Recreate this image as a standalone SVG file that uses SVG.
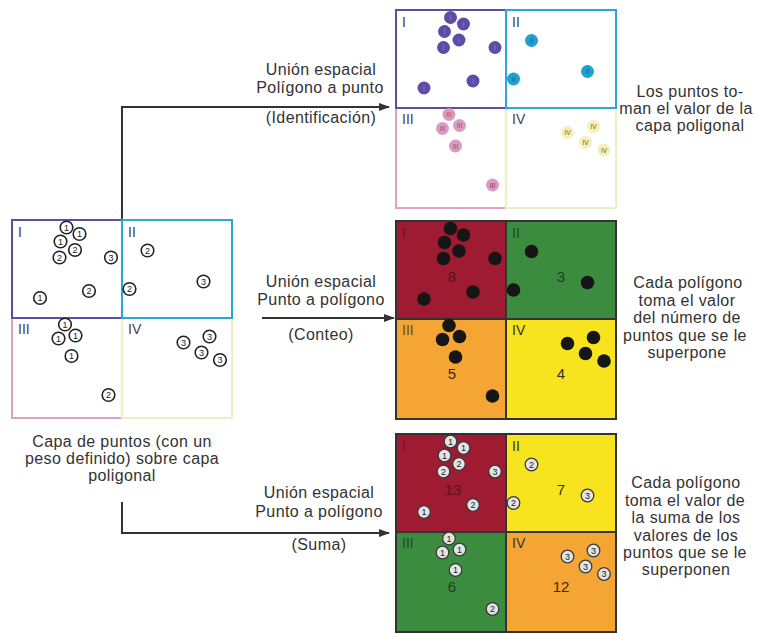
<svg xmlns="http://www.w3.org/2000/svg" width="758" height="633" viewBox="0 0 758 633">
<defs>
<style>
.t{font-family:"Liberation Sans",Arial,sans-serif;font-size:16px;fill:#333;letter-spacing:0.4px;text-anchor:middle}
.q{font-family:"Liberation Sans",Arial,sans-serif;font-size:14px;fill:#444}
.n{font-family:"Liberation Sans",Arial,sans-serif;font-size:9px;fill:#222;text-anchor:middle}
.r{font-family:"Liberation Sans",Arial,sans-serif;font-size:6.5px;text-anchor:middle}
.big{font-family:"Liberation Sans",Arial,sans-serif;font-size:15px;text-anchor:middle}
.wd{fill:#fff;stroke:#222;stroke-width:1.6}
.gd{fill:#e4e4e4;stroke:#3a3a3a;stroke-width:1.3}
.bd{fill:#161616}
.pI{fill:#5E4DA6}.pII{fill:#1FA0CF}.pIII{fill:#D99CC0}.pIV{fill:#F5F0B8}
.cell{stroke:#333;stroke-width:2}
.con{fill:none;stroke:#333;stroke-width:2}
</style>
<marker id="ah" markerUnits="userSpaceOnUse" markerWidth="11" markerHeight="8" refX="10" refY="4" orient="auto">
<path d="M0,0 L11,4 L0,8 z" fill="#333"/>
</marker>
</defs>
<rect width="758" height="633" fill="#fff"/>

<g id="connectors">
<path class="con" d="M122,220 V107 H389" marker-end="url(#ah)"/>
<path class="con" d="M262,318 H394" marker-end="url(#ah)"/>
<path class="con" d="M122,502 V533 H389" marker-end="url(#ah)"/>
</g>

<g id="labels">
<text class="t" x="321" y="75">Unión espacial</text>
<text class="t" x="320" y="93">Polígono a punto</text>
<text class="t" x="321" y="123">(Identificación)</text>
<text class="t" x="321" y="287">Unión espacial</text>
<text class="t" x="321" y="305">Punto a polígono</text>
<text class="t" x="321" y="340">(Conteo)</text>
<text class="t" x="319" y="498">Unión espacial</text>
<text class="t" x="319" y="517">Punto a polígono</text>
<text class="t" x="319" y="550">(Suma)</text>
<text class="t" x="690" y="97">Los puntos to-</text>
<text class="t" x="686" y="114">man el valor de la</text>
<text class="t" x="690" y="131">capa poligonal</text>
<text class="t" x="688" y="288">Cada polígono</text>
<text class="t" x="687" y="306">toma el valor</text>
<text class="t" x="687" y="323">del número de</text>
<text class="t" x="685" y="341">puntos que se le</text>
<text class="t" x="687" y="358">superpone</text>
<text class="t" x="686" y="488">Cada polígono</text>
<text class="t" x="685" y="506">toma el valor de</text>
<text class="t" x="686" y="523">la suma de los</text>
<text class="t" x="686" y="541">valores de los</text>
<text class="t" x="685" y="558">puntos que se le</text>
<text class="t" x="686" y="575">superponen</text>
<text class="t" x="122" y="447">Capa de puntos (con un</text>
<text class="t" x="122" y="464">peso definido) sobre capa</text>
<text class="t" x="122" y="481">poligonal</text>
</g>

<g id="source-layer">
<rect x="12" y="318" width="110" height="100" fill="none" stroke="#DBA3C6" stroke-width="2"/>
<rect x="122" y="318" width="110" height="100" fill="none" stroke="#F2EEC4" stroke-width="2"/>
<rect x="12" y="220" width="110" height="98" fill="none" stroke="#5E4DA6" stroke-width="2"/>
<rect x="122" y="220" width="110" height="98" fill="none" stroke="#2CA6D2" stroke-width="2"/>
<text class="q" x="18" y="237">I</text>
<text class="q" x="128" y="237">II</text>
<text class="q" x="18" y="334">III</text>
<text class="q" x="128" y="334">IV</text>
<g>
<circle class="wd" cx="66.5" cy="227.5" r="6.3"/><text class="n" x="66.5" y="230.7">1</text>
<circle class="wd" cx="79.5" cy="234" r="6.3"/><text class="n" x="79.5" y="237.2">1</text>
<circle class="wd" cx="60.5" cy="241.5" r="6.3"/><text class="n" x="60.5" y="244.7">1</text>
<circle class="wd" cx="75" cy="250" r="6.3"/><text class="n" x="75" y="253.2">2</text>
<circle class="wd" cx="59.5" cy="257.5" r="6.3"/><text class="n" x="59.5" y="260.7">2</text>
<circle class="wd" cx="111" cy="257.5" r="6.3"/><text class="n" x="111" y="260.7">3</text>
<circle class="wd" cx="89" cy="291" r="6.3"/><text class="n" x="89" y="294.2">2</text>
<circle class="wd" cx="40" cy="298" r="6.3"/><text class="n" x="40" y="301.2">1</text>
<circle class="wd" cx="147.5" cy="250.5" r="6.3"/><text class="n" x="147.5" y="253.7">2</text>
<circle class="wd" cx="203.5" cy="281.5" r="6.3"/><text class="n" x="203.5" y="284.7">3</text>
<circle class="wd" cx="129.5" cy="289" r="6.3"/><text class="n" x="129.5" y="292.2">2</text>
<circle class="wd" cx="65" cy="324.5" r="6.3"/><text class="n" x="65" y="327.7">1</text>
<circle class="wd" cx="58.5" cy="338.5" r="6.3"/><text class="n" x="58.5" y="341.7">1</text>
<circle class="wd" cx="75.5" cy="335.5" r="6.3"/><text class="n" x="75.5" y="338.7">1</text>
<circle class="wd" cx="71.5" cy="356" r="6.3"/><text class="n" x="71.5" y="359.2">1</text>
<circle class="wd" cx="108.5" cy="395" r="6.3"/><text class="n" x="108.5" y="398.2">2</text>
<circle class="wd" cx="183.5" cy="342.5" r="6.3"/><text class="n" x="183.5" y="345.7">3</text>
<circle class="wd" cx="209.5" cy="336.5" r="6.3"/><text class="n" x="209.5" y="339.7">3</text>
<circle class="wd" cx="201.5" cy="352.5" r="6.3"/><text class="n" x="201.5" y="355.7">3</text>
<circle class="wd" cx="220" cy="360" r="6.3"/><text class="n" x="220" y="363.2">3</text>
</g>
</g>

<g id="result-identification" transform="translate(384,-210)">
<rect x="12" y="318" width="110" height="100" fill="none" stroke="#DBA3C6" stroke-width="2"/>
<rect x="122" y="318" width="110" height="100" fill="none" stroke="#F2EEC4" stroke-width="2"/>
<rect x="12" y="220" width="110" height="98" fill="none" stroke="#5E4DA6" stroke-width="2"/>
<rect x="122" y="220" width="110" height="98" fill="none" stroke="#2CA6D2" stroke-width="2"/>
<text class="q" x="18" y="237">I</text>
<text class="q" x="128" y="237">II</text>
<text class="q" x="18" y="334">III</text>
<text class="q" x="128" y="334">IV</text>
<g>
<circle class="pI" cx="66.5" cy="227.5" r="6.5"/><text class="r" fill="#8E82CC" x="66.5" y="230">I</text>
<circle class="pI" cx="79.5" cy="234" r="6.5"/><text class="r" fill="#8E82CC" x="79.5" y="236.5">I</text>
<circle class="pI" cx="60.5" cy="241.5" r="6.5"/><text class="r" fill="#8E82CC" x="60.5" y="244">I</text>
<circle class="pI" cx="75" cy="250" r="6.5"/><text class="r" fill="#8E82CC" x="75" y="252.5">I</text>
<circle class="pI" cx="59.5" cy="257.5" r="6.5"/><text class="r" fill="#8E82CC" x="59.5" y="260">I</text>
<circle class="pI" cx="111" cy="257.5" r="6.5"/><text class="r" fill="#8E82CC" x="111" y="260">I</text>
<circle class="pI" cx="89" cy="291" r="6.5"/><text class="r" fill="#8E82CC" x="89" y="293.5">I</text>
<circle class="pI" cx="40" cy="298" r="6.5"/><text class="r" fill="#8E82CC" x="40" y="300.5">I</text>
<circle class="pII" cx="147.5" cy="250.5" r="6.5"/><text class="r" fill="#0E6A8C" x="147.5" y="253">II</text>
<circle class="pII" cx="203.5" cy="281.5" r="6.5"/><text class="r" fill="#0E6A8C" x="203.5" y="284">II</text>
<circle class="pII" cx="129.5" cy="289" r="6.5"/><text class="r" fill="#0E6A8C" x="129.5" y="291.5">II</text>
<circle class="pIII" cx="65" cy="324.5" r="6.5"/><text class="r" fill="#9E4A78" x="65" y="327">III</text>
<circle class="pIII" cx="58.5" cy="338.5" r="6.5"/><text class="r" fill="#9E4A78" x="58.5" y="341">III</text>
<circle class="pIII" cx="75.5" cy="335.5" r="6.5"/><text class="r" fill="#9E4A78" x="75.5" y="338">III</text>
<circle class="pIII" cx="71.5" cy="356" r="6.5"/><text class="r" fill="#9E4A78" x="71.5" y="358.5">III</text>
<circle class="pIII" cx="108.5" cy="395" r="6.5"/><text class="r" fill="#7A2E55" x="108.5" y="397.5">III</text>
<circle class="pIV" cx="183.5" cy="342.5" r="6.5"/><text class="r" fill="#6E6420" x="183.5" y="345">IV</text>
<circle class="pIV" cx="209.5" cy="336.5" r="6.5"/><text class="r" fill="#6E6420" x="209.5" y="339">IV</text>
<circle class="pIV" cx="201.5" cy="352.5" r="6.5"/><text class="r" fill="#6E6420" x="201.5" y="355">IV</text>
<circle class="pIV" cx="220" cy="360" r="6.5"/><text class="r" fill="#6E6420" x="220" y="362.5">IV</text>
</g>
</g>

<g id="result-count" transform="translate(384,1)">
<rect class="cell" x="12" y="220" width="110" height="98" fill="#9E1B32"/>
<rect class="cell" x="122" y="220" width="110" height="98" fill="#3C8C40"/>
<rect class="cell" x="12" y="318" width="110" height="100" fill="#F5A533"/>
<rect class="cell" x="122" y="318" width="110" height="100" fill="#F7E31E"/>
<text class="q" x="18" y="237" style="fill:#6E1424">I</text>
<text class="q" x="128" y="237" style="fill:#1F4A22">II</text>
<text class="q" x="18" y="334" style="fill:#6A4A1A">III</text>
<text class="q" x="128" y="334" style="fill:#333">IV</text>
<text class="big" x="68" y="281" fill="#5A1420">8</text>
<text class="big" x="177" y="281" fill="#1E3F22">3</text>
<text class="big" x="68" y="378" fill="#3A2A10">5</text>
<text class="big" x="177" y="378" fill="#333">4</text>
<g>
<circle class="bd" cx="66.5" cy="227.5" r="6.8"/>
<circle class="bd" cx="79.5" cy="234" r="6.8"/>
<circle class="bd" cx="60.5" cy="241.5" r="6.8"/>
<circle class="bd" cx="75" cy="250" r="6.8"/>
<circle class="bd" cx="59.5" cy="257.5" r="6.8"/>
<circle class="bd" cx="111" cy="257.5" r="6.8"/>
<circle class="bd" cx="89" cy="291" r="6.8"/>
<circle class="bd" cx="40" cy="298" r="6.8"/>
<circle class="bd" cx="147.5" cy="250.5" r="6.8"/>
<circle class="bd" cx="203.5" cy="281.5" r="6.8"/>
<circle class="bd" cx="129.5" cy="289" r="6.8"/>
<circle class="bd" cx="65" cy="324.5" r="6.8"/>
<circle class="bd" cx="58.5" cy="338.5" r="6.8"/>
<circle class="bd" cx="75.5" cy="335.5" r="6.8"/>
<circle class="bd" cx="71.5" cy="356" r="6.8"/>
<circle class="bd" cx="108.5" cy="395" r="6.8"/>
<circle class="bd" cx="183.5" cy="342.5" r="6.8"/>
<circle class="bd" cx="209.5" cy="336.5" r="6.8"/>
<circle class="bd" cx="201.5" cy="352.5" r="6.8"/>
<circle class="bd" cx="220" cy="360" r="6.8"/>
</g>
</g>

<g id="result-sum" transform="translate(384,214)">
<rect class="cell" x="12" y="220" width="110" height="98" fill="#9E1B32"/>
<rect class="cell" x="122" y="220" width="110" height="98" fill="#F7E31E"/>
<rect class="cell" x="12" y="318" width="110" height="100" fill="#3C8C40"/>
<rect class="cell" x="122" y="318" width="110" height="100" fill="#F5A533"/>
<text class="q" x="18" y="237" style="fill:#6E1424">I</text>
<text class="q" x="128" y="237" style="fill:#333">II</text>
<text class="q" x="18" y="334" style="fill:#1F4A22">III</text>
<text class="q" x="128" y="334" style="fill:#333">IV</text>
<text class="big" x="69" y="281" fill="#5A1420">13</text>
<text class="big" x="177" y="281" fill="#333">7</text>
<text class="big" x="68" y="378" fill="#1E3F22">6</text>
<text class="big" x="177" y="378" fill="#3A2A10">12</text>
<g>
<circle class="gd" cx="66.5" cy="227.5" r="6.3"/><text class="n" x="66.5" y="230.7">1</text>
<circle class="gd" cx="79.5" cy="234" r="6.3"/><text class="n" x="79.5" y="237.2">1</text>
<circle class="gd" cx="60.5" cy="241.5" r="6.3"/><text class="n" x="60.5" y="244.7">1</text>
<circle class="gd" cx="75" cy="250" r="6.3"/><text class="n" x="75" y="253.2">2</text>
<circle class="gd" cx="59.5" cy="257.5" r="6.3"/><text class="n" x="59.5" y="260.7">2</text>
<circle class="gd" cx="111" cy="257.5" r="6.3"/><text class="n" x="111" y="260.7">3</text>
<circle class="gd" cx="89" cy="291" r="6.3"/><text class="n" x="89" y="294.2">2</text>
<circle class="gd" cx="40" cy="298" r="6.3"/><text class="n" x="40" y="301.2">1</text>
<circle class="gd" cx="147.5" cy="250.5" r="6.3"/><text class="n" x="147.5" y="253.7">2</text>
<circle class="gd" cx="203.5" cy="281.5" r="6.3"/><text class="n" x="203.5" y="284.7">3</text>
<circle class="gd" cx="129.5" cy="289" r="6.3"/><text class="n" x="129.5" y="292.2">2</text>
<circle class="gd" cx="65" cy="324.5" r="6.3"/><text class="n" x="65" y="327.7">1</text>
<circle class="gd" cx="58.5" cy="338.5" r="6.3"/><text class="n" x="58.5" y="341.7">1</text>
<circle class="gd" cx="75.5" cy="335.5" r="6.3"/><text class="n" x="75.5" y="338.7">1</text>
<circle class="gd" cx="71.5" cy="356" r="6.3"/><text class="n" x="71.5" y="359.2">1</text>
<circle class="gd" cx="108.5" cy="395" r="6.3"/><text class="n" x="108.5" y="398.2">2</text>
<circle class="gd" cx="183.5" cy="342.5" r="6.3"/><text class="n" x="183.5" y="345.7">3</text>
<circle class="gd" cx="209.5" cy="336.5" r="6.3"/><text class="n" x="209.5" y="339.7">3</text>
<circle class="gd" cx="201.5" cy="352.5" r="6.3"/><text class="n" x="201.5" y="355.7">3</text>
<circle class="gd" cx="220" cy="360" r="6.3"/><text class="n" x="220" y="363.2">3</text>
</g>
</g>
</svg>
